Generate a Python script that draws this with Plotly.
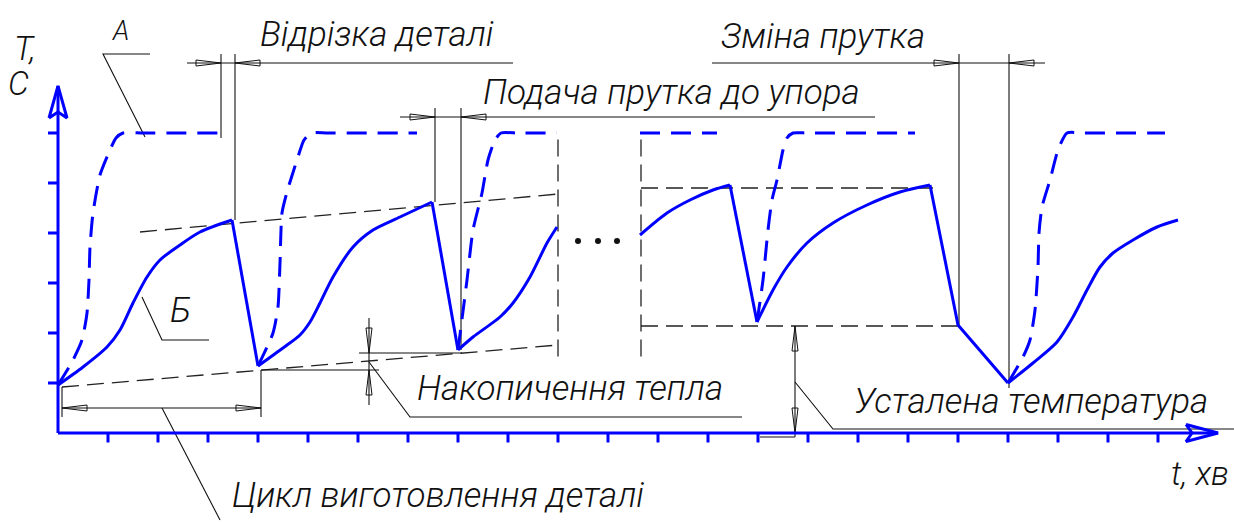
import plotly.graph_objects as go

# Drawing grid: one unit of time / temperature = one tick step
X_RANGE = [-1.16, 23.52]
Y_RANGE = [-1.78, 8.66]

t_ticks = list(range(1, 23))
T_ticks = list(range(1, 7))

# Curve Б - temperature of the part: heating arcs
part_arc_t = [
    [0.0, 0.5, 0.98, 1.24, 1.5, 1.78, 2.04, 2.44, 2.84, 3.48],
    [4.0, 4.5, 4.84, 5.04, 5.24, 5.5, 5.9, 6.3, 6.84, 7.48],
    [8.0, 8.3, 8.84, 9.1, 9.44, 9.78, 9.98],
    [11.64, 12.18, 12.64, 13.1, 13.44],
    [13.98, 14.3, 14.58, 14.98, 15.5, 16.18, 16.84, 17.44],
    [19.0, 19.5, 19.98, 20.3, 20.58, 20.84, 21.1, 21.5, 21.98, 22.4],
]
part_arc_T = [
    [0.96, 1.32, 1.72, 2.06, 2.6, 3.12, 3.46, 3.76, 4.02, 4.26],
    [1.34, 1.7, 1.96, 2.22, 2.6, 3.12, 3.72, 4.06, 4.32, 4.62],
    [1.66, 1.92, 2.32, 2.6, 3.12, 3.8, 4.12],
    [3.96, 4.4, 4.66, 4.86, 4.96],
    [2.22, 2.86, 3.32, 3.8, 4.2, 4.56, 4.82, 4.96],
    [1.0, 1.4, 1.82, 2.32, 2.86, 3.32, 3.6, 3.86, 4.12, 4.26],
]
# Curve Б - cooling after cut-off and during bar change
part_drop_t = [[3.48, 4.0], [7.48, 8.0], [13.44, 13.98], [17.44, 18.0, 19.0]]
part_drop_T = [[4.26, 1.34], [4.62, 1.66], [4.96, 2.22], [4.96, 2.16, 1.0]]

# Curve A - temperature of the tool (dashed)
tool_t = [
    [0.0, 0.28, 0.48, 0.58, 0.62, 0.64, 0.7, 0.84, 1.04, 1.16, 1.3, 1.7, 3.24],
    [4.0, 4.3, 4.4, 4.44, 4.48, 4.58, 4.78, 4.92, 5.06, 5.4, 7.18],
    [8.0, 8.18, 8.3, 8.48, 8.6, 8.74, 8.86, 9.2, 9.98],
    [11.64, 13.18],
    [13.98, 14.1, 14.2, 14.28, 14.38, 14.5, 14.58, 14.7, 15.0, 17.14],
    [19.0, 19.3, 19.44, 19.54, 19.6, 19.62, 19.68, 19.84, 20.0, 20.18, 20.5, 22.14],
]
tool_T = [
    [0.96, 1.42, 1.86, 2.4, 3.06, 3.72, 4.4, 5.16, 5.66, 5.9, 6.0, 6.0, 6.0],
    [1.34, 2.0, 2.52, 3.4, 4.4, 4.82, 5.46, 5.86, 6.0, 6.0, 6.0],
    [1.66, 3.06, 4.06, 4.8, 5.46, 5.86, 6.0, 6.0, 6.0],
    [6.0, 6.0],
    [2.22, 3.06, 4.06, 4.66, 5.06, 5.66, 5.9, 6.0, 6.0, 6.0],
    [1.0, 1.52, 1.86, 2.46, 3.32, 4.0, 4.52, 5.06, 5.66, 6.0, 6.0, 6.0],
]

# Heat accumulation trend lines (through peaks and troughs)
trend_upper_t = [1.64, 10.0]
trend_upper_T = [4.02, 4.78]
trend_lower_t = [0.08, 10.0]
trend_lower_T = [0.92, 1.76]
# Omitted interval of the time axis
gap_t = [10.0, 11.66]
gap_T = [1.53, 6.02]
# Steady-state temperature band
steady_t = [11.66, 17.5, 18.0]
steady_T = [2.14, 4.9]

labels = {
    "A": "A",
    "B": "Б",
    "cut": "Відрізка деталі",
    "feed": "Подача прутка до упора",
    "bar": "Зміна прутка",
    "accum": "Накопичення тепла",
    "steady": "Усталена температура",
    "cycle": "Цикл виготовлення деталі",
    "y1": "T,",
    "y2": "C",
    "x": "t, хв",
}

BLUE = "#0000ff"
BLACK = "#111111"
DASHED = "#222222"
FONT = "Roboto, Liberation Sans, sans-serif"

fig = go.Figure()


def line(xs, ys, color=BLACK, width=1.1, dash=None, shape="linear", smoothing=1.0):
    fig.add_trace(go.Scatter(
        x=xs, y=ys, mode="lines",
        line=dict(color=color, width=width, dash=dash, shape=shape,
                  smoothing=smoothing if shape == "spline" else None),
        hoverinfo="skip", showlegend=False))


def dim_arrow(x, y, direction, length=0.5, half=0.06):
    # open slender arrowhead used on dimension lines
    if direction == "right":
        xs, ys = [x, x - length, x - length, x], [y, y + half, y - half, y]
    elif direction == "left":
        xs, ys = [x, x + length, x + length, x], [y, y + half, y - half, y]
    elif direction == "up":
        xs, ys = [x, x - half, x + half, x], [y, y - length, y - length, y]
    else:
        xs, ys = [x, x - half, x + half, x], [y, y + length, y + length, y]
    line(xs, ys, width=1.0)


def text(x, y, s, size=35):
    fig.add_annotation(x=x, y=y, text=s, showarrow=False, xanchor="center",
                       yanchor="middle",
                       font=dict(family=FONT, size=size, color=BLACK,
                                 style="italic", weight=300))


# ---- thin black construction lines ----
# trend lines and omitted interval
line(trend_upper_t, trend_upper_T, dash="17px,8px", width=1.3, color=DASHED)
line(trend_lower_t, trend_lower_T, dash="17px,8px", width=1.3, color=DASHED)
for gt in gap_t:
    line([gt, gt], gap_T, dash="17px,8px", width=1.3, color=DASHED)
# steady state band
line([steady_t[0], steady_t[1]], [steady_T[1], steady_T[1]], dash="17px,8px", width=1.3, color=DASHED)
line([steady_t[0], steady_t[2]], [steady_T[0], steady_T[0]], dash="17px,8px", width=1.3, color=DASHED)

# "Відрізка деталі" dimension
cut_a, cut_b, dim_top = 3.26, 3.54, 7.4
line([cut_a, cut_a], [7.58, 5.9])
line([cut_b, cut_b], [7.58, part_arc_T[0][-1]])
line([2.58, 9.1], [dim_top, dim_top])
dim_arrow(cut_a, dim_top, "right")
dim_arrow(cut_b, dim_top, "left")
text(6.38, 7.98, labels["cut"])

# "Подача прутка до упора" dimension
feed_a, feed_b, dim_feed = 7.54, 8.06, 6.32
line([feed_a, feed_a], [6.5, part_arc_T[1][-1]])
line([feed_b, feed_b], [6.5, part_arc_T[2][0]])
line([6.84, 16.34], [dim_feed, dim_feed])
dim_arrow(feed_a, dim_feed, "right")
dim_arrow(feed_b, dim_feed, "left")
text(12.26, 6.82, labels["feed"])

# "Зміна прутка" dimension
bar_a, bar_b = 18.02, 19.02
line([bar_a, bar_a], [7.58, part_drop_T[3][1]])
line([bar_b, bar_b], [7.58, 0.9])
line([13.08, 19.74], [dim_top, dim_top])
dim_arrow(bar_a, dim_top, "right")
dim_arrow(bar_b, dim_top, "left")
text(15.3, 7.94, labels["bar"])

# "Накопичення тепла" dimension
acc_x, acc_hi, acc_lo = 6.22, 1.6, 1.26
line([6.02, 8.08], [acc_hi, acc_hi])
line([4.06, 6.42], [acc_lo, acc_lo])
line([acc_x, acc_x], [2.3, 0.56])
dim_arrow(acc_x, acc_hi, "down")
dim_arrow(acc_x, acc_lo, "up")
line([acc_x, 7.04, 13.68], [1.42, 0.32, 0.32])
text(10.24, 0.9, labels["accum"])

# "Усталена температура" dimension
st_x = 14.74
line([st_x, st_x], [steady_T[0], -0.08])
line([14.04, st_x], [-0.08, -0.08])
dim_arrow(st_x, steady_T[0], "up")
dim_arrow(st_x, 0.0, "down")
line([st_x, 15.5, 23.52], [1.02, 0.08, 0.08])
text(19.46, 0.64, labels["steady"])

# "Цикл виготовлення деталі" dimension
cyc_a, cyc_b, cyc_y = 0.08, 4.06, 0.5
line([cyc_a, cyc_a], [0.92, 0.32])
line([cyc_b, cyc_b], [1.26, 0.32])
line([cyc_a, cyc_b], [cyc_y, cyc_y])
dim_arrow(cyc_a, cyc_y, "left")
dim_arrow(cyc_b, cyc_y, "right")
line([2.08, 3.24], [cyc_y, -1.74])
text(7.6, -1.24, labels["cycle"])

# callouts for the curves
line([1.84, 0.9, 1.74], [7.58, 7.58, 5.92])
text(1.24, 8.04, labels["A"], size=27)
line([1.68, 2.08, 3.02], [2.72, 1.86, 1.86])
text(2.44, 2.46, labels["B"])

# omitted cycles
fig.add_trace(go.Scatter(x=[10.4, 10.8, 11.18], y=[3.84, 3.84, 3.84], mode="markers",
                         marker=dict(color=BLACK, size=6), hoverinfo="skip", showlegend=False))

# ---- blue axes ----
x_tip, y_tip = 23.2, 6.94
line([0, x_tip], [0, 0], color=BLUE, width=3)
line([0, 0], [0, y_tip], color=BLUE, width=3)
line([x_tip - 0.64, x_tip, x_tip - 0.64, x_tip - 0.52, x_tip - 0.64],
     [0.17, 0, -0.17, 0, 0.17], color=BLUE, width=3)
line([-0.18, 0, 0.18, 0, -0.18], [y_tip - 0.64, y_tip, y_tip - 0.64, y_tip - 0.52, y_tip - 0.64],
     color=BLUE, width=3)
tx, ty = [], []
for t in t_ticks:
    tx += [t, t, None]
    ty += [0, -0.19, None]
line(tx, ty, color=BLUE, width=3)
tx, ty = [], []
for T in T_ticks:
    tx += [0, -0.2, None]
    ty += [T, T, None]
line(tx, ty, color=BLUE, width=3)

# ---- curves ----
for xs, ys in zip(tool_t, tool_T):
    line(xs, ys, color=BLUE, width=3, dash="20px,11px", shape="spline", smoothing=0.6)
for xs, ys in zip(part_arc_t, part_arc_T):
    line(xs, ys, color=BLUE, width=3, shape="spline", smoothing=0.8)
for xs, ys in zip(part_drop_t, part_drop_T):
    line(xs, ys, color=BLUE, width=3)

# axis captions
text(-0.66, 7.7, labels["y1"], size=33)
text(-0.8, 7.0, labels["y2"], size=33)
text(22.84, -0.8, labels["x"], size=33)

fig.update_layout(
    width=1234, height=522,
    margin=dict(l=0, r=0, t=0, b=0),
    paper_bgcolor="white", plot_bgcolor="white",
    xaxis=dict(range=X_RANGE, visible=False, fixedrange=True),
    yaxis=dict(range=Y_RANGE, visible=False, fixedrange=True),
    showlegend=False,
)
fig.write_html("out.html")
